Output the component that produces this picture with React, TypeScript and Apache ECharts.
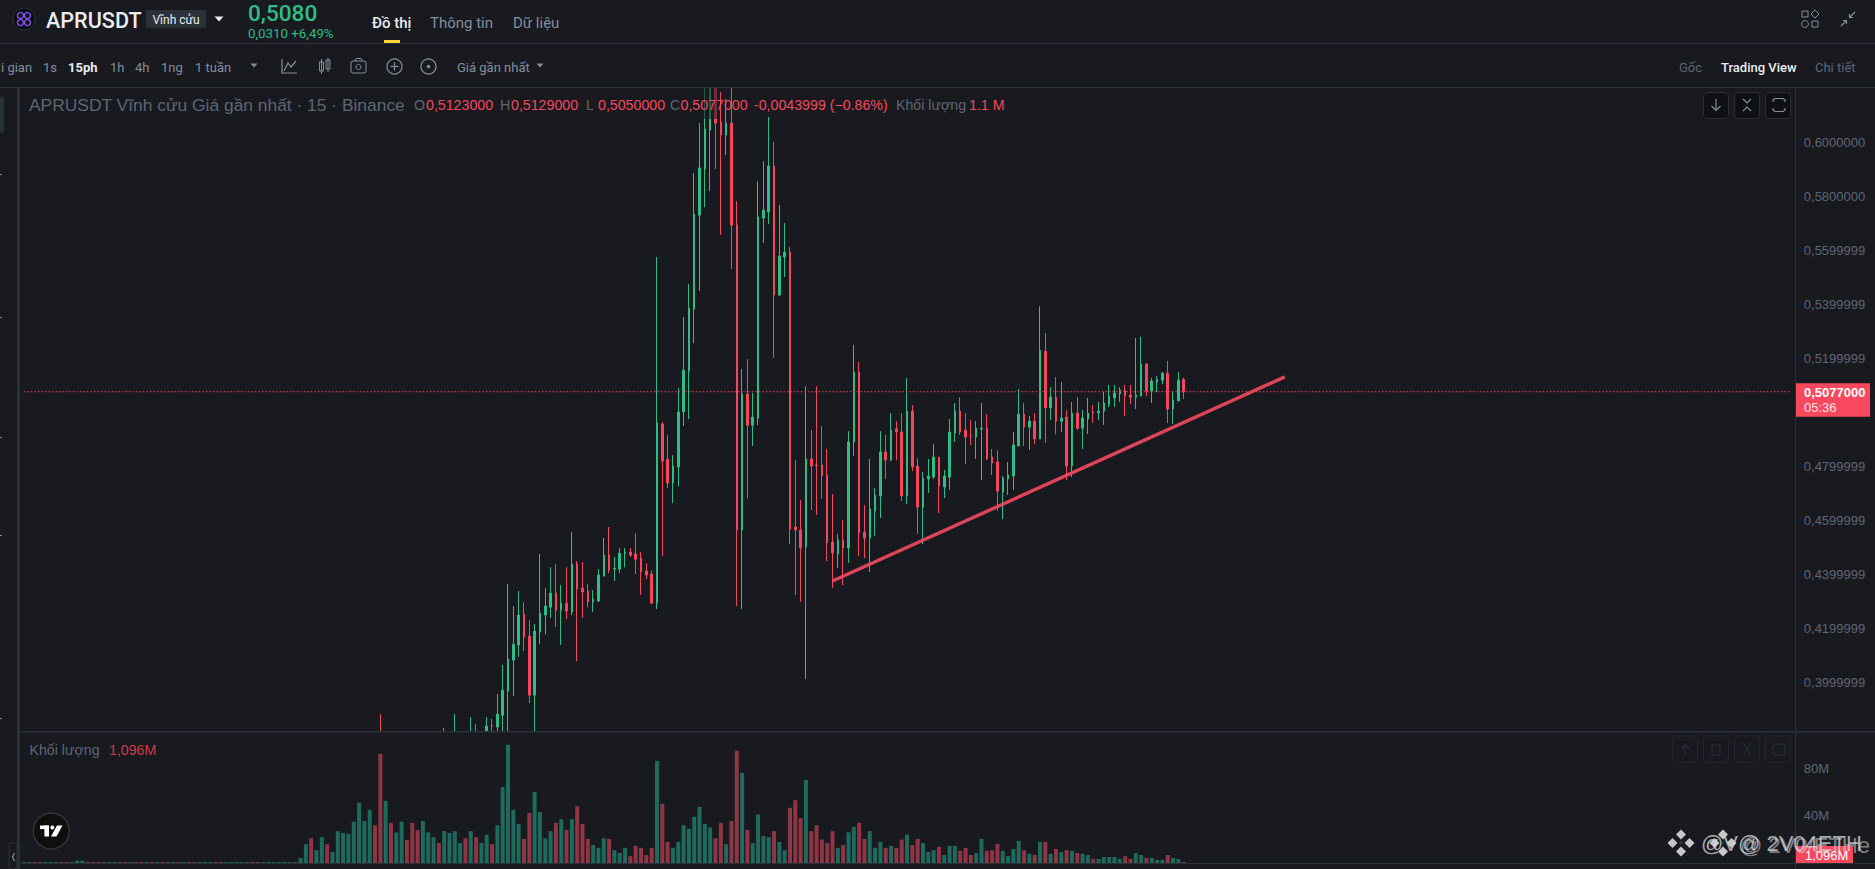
import React, { useEffect, useRef } from "react";
import * as echarts from "echarts";

const UP = "#2EBD85";
const DOWN = "#F6465D";
const VOL_UP = "#1E6A5C";
const VOL_DOWN = "#8E3644";
const BG = "#181A20";
const LINE = "#2B3139";
const MUTED = "#5E6673";
const SOFT = "#848E9C";
const BRIGHT = "#EAECEF";
const UI_FONT = "Roboto, 'Noto Sans', sans-serif";
const CHART_FONT = "'Liberation Sans', Arial, sans-serif";

const CATEGORY_COUNT = 333;
const categories = Array.from({ length: CATEGORY_COUNT }, (_, i) => String(i));

// Off-scale candles whose only visible part is an upper wick: [index, open, high, low, close]
const earlyCandles = [
  [67, 0.3745, 0.3883, 0.371, 0.3715],
  [79, 0.371, 0.3832, 0.369, 0.3745],
  [81, 0.3705, 0.3883, 0.368, 0.3755],
  [84, 0.3715, 0.3872, 0.369, 0.3775],
  [85, 0.3775, 0.3846, 0.37, 0.373],
];

// Candles from index 87 on: [open, high, low, close]
const FIRST_ROW = 87;
const ohlc = [
  [0.3805, 0.3872, 0.378, 0.3839], [0.3842, 0.3865, 0.375, 0.384], [0.3835, 0.3957, 0.378, 0.3883],
  [0.3879, 0.4065, 0.378, 0.3972], [0.3968, 0.4365, 0.375, 0.4087], [0.4083, 0.4283, 0.395, 0.4142],
  [0.4139, 0.4339, 0.4094, 0.425], [0.4253, 0.4298, 0.4116, 0.4168], [0.4172, 0.4231, 0.3924, 0.3953],
  [0.3953, 0.4216, 0.378, 0.419], [0.4187, 0.4476, 0.4142, 0.4257], [0.425, 0.435, 0.4179, 0.4283],
  [0.4279, 0.4427, 0.4239, 0.4331], [0.4331, 0.4439, 0.4205, 0.4268], [0.4268, 0.4361, 0.4139, 0.4294],
  [0.4294, 0.4427, 0.4235, 0.4265], [0.4261, 0.4557, 0.425, 0.4439], [0.4439, 0.445, 0.4079, 0.4346],
  [0.435, 0.4446, 0.4239, 0.4335], [0.4339, 0.4365, 0.4279, 0.4298], [0.4298, 0.4342, 0.4261, 0.4309],
  [0.4302, 0.442, 0.4298, 0.4398], [0.4394, 0.4535, 0.4394, 0.4472], [0.4472, 0.4576, 0.4405, 0.4416],
  [0.442, 0.4465, 0.4376, 0.4424], [0.442, 0.4498, 0.4405, 0.4479], [0.4479, 0.4498, 0.4427, 0.4483],
  [0.4483, 0.4498, 0.4465, 0.4472], [0.4476, 0.4553, 0.4402, 0.4457], [0.4461, 0.4483, 0.4324, 0.4409],
  [0.4413, 0.4442, 0.4383, 0.4398], [0.4402, 0.4416, 0.429, 0.4294], [0.4294, 0.5576, 0.4272, 0.4961],
  [0.4957, 0.4965, 0.4468, 0.482], [0.4827, 0.4916, 0.472, 0.4739], [0.4739, 0.4842, 0.4665, 0.4802],
  [0.4798, 0.509, 0.4727, 0.5002], [0.5002, 0.5354, 0.495, 0.5157], [0.5154, 0.5476, 0.4976, 0.5387],
  [0.5383, 0.5887, 0.5257, 0.5735], [0.5731, 0.6072, 0.545, 0.5906], [0.5902, 0.628, 0.5761, 0.605],
  [0.6046, 0.63, 0.582, 0.6215], [0.6215, 0.63, 0.5902, 0.6072], [0.6076, 0.6187, 0.5657, 0.6028],
  [0.6028, 0.6161, 0.5954, 0.6072], [0.6072, 0.6203, 0.5532, 0.5694], [0.5694, 0.5783, 0.4283, 0.4565],
  [0.4565, 0.5161, 0.4272, 0.5068], [0.5068, 0.5198, 0.4683, 0.4953], [0.4953, 0.5072, 0.4876, 0.4983],
  [0.4979, 0.5857, 0.4953, 0.5724], [0.572, 0.5931, 0.5628, 0.575], [0.5743, 0.6095, 0.5698, 0.5913],
  [0.5913, 0.6002, 0.5202, 0.5435], [0.5435, 0.5769, 0.5432, 0.558], [0.5576, 0.5702, 0.5502, 0.5594],
  [0.5594, 0.5613, 0.4513, 0.4568], [0.4576, 0.4824, 0.4324, 0.4565], [0.4565, 0.4676, 0.4298, 0.4498],
  [0.4502, 0.5098, 0.4013, 0.4828], [0.4828, 0.4935, 0.4639, 0.4802], [0.4805, 0.5098, 0.462, 0.4803],
  [0.4805, 0.495, 0.468, 0.4765], [0.4768, 0.4865, 0.445, 0.4517], [0.452, 0.4698, 0.435, 0.448],
  [0.4476, 0.455, 0.4424, 0.4528], [0.4528, 0.4602, 0.4361, 0.4498], [0.4498, 0.4931, 0.4443, 0.4891],
  [0.4891, 0.525, 0.4839, 0.515], [0.515, 0.5187, 0.4468, 0.4554], [0.4557, 0.4657, 0.4461, 0.4535],
  [0.4535, 0.4828, 0.4409, 0.4643], [0.4635, 0.472, 0.4543, 0.4694], [0.4691, 0.4931, 0.4609, 0.4854],
  [0.4854, 0.4917, 0.4754, 0.4824], [0.4824, 0.4998, 0.482, 0.4935], [0.4939, 0.4968, 0.4824, 0.4928],
  [0.4928, 0.4998, 0.4672, 0.4691], [0.4691, 0.5128, 0.4661, 0.5005], [0.5005, 0.5028, 0.4783, 0.4798],
  [0.4802, 0.4831, 0.455, 0.465], [0.465, 0.478, 0.4513, 0.4757], [0.4754, 0.4828, 0.4702, 0.4765],
  [0.4761, 0.4883, 0.4754, 0.4835], [0.4835, 0.4835, 0.4628, 0.4728], [0.4724, 0.4787, 0.4683, 0.4765],
  [0.4761, 0.4976, 0.4713, 0.4928], [0.4924, 0.5035, 0.4891, 0.5005], [0.5005, 0.5057, 0.4917, 0.4928],
  [0.4935, 0.4998, 0.4809, 0.4909], [0.4913, 0.4972, 0.488, 0.491], [0.4909, 0.4968, 0.4828, 0.4942],
  [0.4939, 0.5035, 0.475, 0.4942], [0.4942, 0.4994, 0.4824, 0.4828], [0.4835, 0.4865, 0.4768, 0.4813],
  [0.4817, 0.4861, 0.4635, 0.4709], [0.4705, 0.4765, 0.4605, 0.4757], [0.4754, 0.4817, 0.4695, 0.4769],
  [0.4765, 0.4928, 0.4713, 0.488], [0.4876, 0.5087, 0.4876, 0.4994], [0.4994, 0.5035, 0.4876, 0.4946],
  [0.4946, 0.4987, 0.4861, 0.4968], [0.4968, 0.4998, 0.4883, 0.4902], [0.4902, 0.5394, 0.4902, 0.5231],
  [0.5227, 0.5294, 0.4887, 0.5017], [0.5017, 0.5094, 0.4972, 0.5057], [0.5057, 0.5131, 0.492, 0.4968],
  [0.4968, 0.5113, 0.4928, 0.498], [0.4983, 0.5009, 0.475, 0.4802], [0.4802, 0.5039, 0.4761, 0.4998],
  [0.4998, 0.5057, 0.4935, 0.4942], [0.4942, 0.5009, 0.4865, 0.498], [0.4976, 0.5054, 0.492, 0.4998],
  [0.5002, 0.5028, 0.4961, 0.4998], [0.4998, 0.5039, 0.4972, 0.5005], [0.5005, 0.5076, 0.4954, 0.5035],
  [0.5031, 0.5102, 0.502, 0.5061], [0.5054, 0.5102, 0.502, 0.5072], [0.5069, 0.5094, 0.5039, 0.5083],
  [0.5083, 0.5102, 0.4987, 0.5061], [0.5065, 0.5102, 0.5031, 0.5057], [0.5057, 0.5276, 0.5013, 0.5065],
  [0.5061, 0.528, 0.5061, 0.518], [0.518, 0.5183, 0.5061, 0.508], [0.508, 0.5128, 0.5035, 0.5117],
  [0.5113, 0.5135, 0.5076, 0.5124], [0.512, 0.515, 0.5105, 0.5146], [0.5146, 0.5191, 0.4961, 0.5013],
  [0.5013, 0.508, 0.4957, 0.5046], [0.5043, 0.515, 0.5043, 0.512], [0.5123, 0.5129, 0.505, 0.5077],
];

// Volume in millions, one per candle slot from index 0
const volumes = [
  1, 1, 1, 1, 1, 1, 1, 1, 1, 1, 2.2, 2.2, 1, 1, 1, 1, 1, 1, 1, 1,
  1, 1, 1, 1, 1, 1, 1, 1, 1, 1, 1, 1, 1, 1, 1, 1, 1, 1, 1, 1,
  1, 1, 1, 1, 1, 1, 1, 1, 1, 1,
  1, 1, 4.5, 16, 21, 11, 22, 16, 9.5, 27,
  25.5, 24.7, 35, 51, 35.6, 45, 32, 92, 52.5, 34,
  26, 35, 19.6, 34, 28, 35.6, 26, 22, 17, 27,
  25.5, 27, 17, 21, 27, 22, 17, 24, 16, 32,
  64, 99.6, 45, 33, 20.5, 42.4, 60, 43, 21, 27,
  34, 37, 28, 37, 48, 33, 20.5, 15.4, 13, 21,
  20.5, 11, 8.7, 13, 6, 14.6, 13, 7, 13, 86,
  50, 18, 13, 18, 32, 29, 39, 47.4, 33, 30,
  21, 34, 16, 35.6, 94.6, 76, 28, 17, 41, 23,
  22, 27, 18, 11, 46.6, 53, 38, 70, 27, 32,
  20, 17, 27, 13, 15.4, 26, 30.6, 34, 20.5, 27,
  13, 18, 13, 14.6, 13, 20, 24, 15.4, 20.5, 17,
  9.5, 11, 13.8, 7, 14.6, 14.6, 10.4, 13, 7, 8.7,
  20.5, 10.4, 11, 16.3, 10.4, 6, 12, 18.8, 11, 8,
  7, 18, 18, 8, 12, 9.5, 11, 10.4, 8.7, 8,
  7, 3.6, 3.6, 5.3, 5.3, 5.3, 3.6, 6, 3.6, 8.7,
  7, 4.5, 4.5, 2.8, 2.8, 7, 4.5, 3.6, 1.1,
];
const volumeSides = (
  "ggrrgggrrg" + "ggrrrrggrr" + "grrgrgrrgr" + "grrgggrrgg" + "gggrrggggg" +
  "ggggrggrgg" + "ggggggrrgr" + "ggrrrgggrg" + "gggrgrggrg" + "ggggrrgggg" +
  "rgrgrrrggg" + "rgggrrrrrg" + "rrgggggggg" + "rrgrrgrggg" + "grggrrrgrr" +
  "rrrgrggrrg" + "ggrgrrgrrg" + "ggrgggrrrg" + "grrrggggrg" + "rgrgrgrgrg" +
  "grgggggrrg" + "grgggrggr"
).split("");

const priceTickValues = [0.6, 0.58, 0.56, 0.54, 0.52, 0.48, 0.46, 0.44, 0.42, 0.4];
const priceTickLabels = [
  "0,6000000", "0,5800000", "0,5599999", "0,5399999", "0,5199999",
  "0,4799999", "0,4599999", "0,4399999", "0,4199999", "0,3999999",
];
const volumeTickValues = [80, 40];
const volumeTickLabels = ["80M", "40M"];

const LAST_PRICE = 0.5077;
const trendLine = [[152, 0.4376], [237, 0.5132]];
const lastPriceLine = [[0, LAST_PRICE], [CATEGORY_COUNT - 1, LAST_PRICE]];

const candleData: any[] = categories.map(() => "-");
earlyCandles.forEach(([i, o, h, l, c]) => { candleData[i] = [o, c, l, h]; });
ohlc.forEach(([o, h, l, c], k) => { candleData[FIRST_ROW + k] = [o, c, l, h]; });

const volumeData = volumes.map((v, i) => ({
  value: v,
  itemStyle: { color: volumeSides[i] === "g" ? VOL_UP : VOL_DOWN },
}));

const text = (x: number, y: number, t: string, fill: string, size: number, extra: any = {}) => ({
  type: "text", x, y, z: extra.z ?? 20, silent: true,
  style: {
    text: t, fill, fontSize: size, fontFamily: extra.family ?? UI_FONT,
    fontWeight: extra.weight ?? "normal", textAlign: extra.align ?? "left", textVerticalAlign: "middle",
    opacity: extra.opacity ?? 1,
  },
});
const rect = (x: number, y: number, w: number, h: number, fill: string, extra: any = {}) => ({
  type: "rect", z: extra.z ?? 15, silent: true,
  shape: { x, y, width: w, height: h, r: extra.r ?? 0 },
  style: { fill, stroke: extra.stroke, lineWidth: extra.lw ?? 1, opacity: extra.opacity ?? 1 },
});
const poly = (points: number[][], stroke: string, lw = 1.2, z = 20) => ({
  type: "polyline", z, silent: true, shape: { points }, style: { stroke, lineWidth: lw, fill: "none" },
});
const tri = (x: number, y: number, w: number, h: number, fill: string) => ({
  type: "polygon", z: 20, silent: true,
  shape: { points: [[x - w / 2, y - h / 2], [x + w / 2, y - h / 2], [x, y + h / 2]] }, style: { fill },
});
const circle = (cx: number, cy: number, r: number, stroke: string | undefined, fill: string, lw = 1.2, z = 20) => ({
  type: "circle", z, silent: true, shape: { cx, cy, r }, style: { stroke, fill, lineWidth: lw },
});

function buildGraphic() {
  const els: any[] = [];
  // Panes that trim the candles to their plot area (the candlestick series is not clipped by its grid)
  els.push(rect(0, 0, 1875, 88, BG, { z: 8 }));
  els.push(rect(20, 732, 1775, 137, BG, { z: 8 }));

  // frame lines
  els.push(rect(0, 43, 1875, 1, LINE));
  els.push(rect(0, 87, 1875, 1, LINE));
  els.push(rect(17, 88, 3, 781, "#2B3139"));
  els.push(rect(1795, 88, 1, 781, LINE));
  els.push(rect(20, 731, 1855, 1.5, LINE));
  els.push(rect(20, 863, 1855, 1, LINE));
  els.push(rect(0, 97, 4, 36, "#2B3139", { r: 2 }));
  [174, 317, 437, 535, 718].forEach((y) => els.push(rect(0, y, 2, 1, SOFT)));
  els.push(rect(9, 843, 8, 26, BG, { stroke: LINE, r: 3 }));
  els.push(poly([[14.5, 853], [12.5, 857], [14.5, 861]], SOFT, 1.2));

  // top bar
  els.push(circle(24, 19, 11, "#2B3139", "#0B0E11", 1));
  [[20.5, 15.5], [27.5, 15.5], [20.5, 22.5], [27.5, 22.5]].forEach(([cx, cy]) =>
    els.push(circle(cx, cy, 3, "#7B4DE0", "none", 1.6)));
  els.push(text(46, 20, "APRUSDT", BRIGHT, 21.6, { weight: 500 }));
  els.push(rect(146, 10, 60, 18, "#2B3139", { r: 2 }));
  els.push(text(176, 19.5, "Vĩnh cửu", BRIGHT, 12, { align: "center" }));
  els.push(tri(219, 19, 9, 5, BRIGHT));
  els.push(text(248, 13, "0,5080", UP, 22.6, { weight: 500 }));
  els.push(text(248, 33.5, "0,0310 +6,49%", UP, 13.3));
  els.push(text(372, 23, "Đồ thị", BRIGHT, 15, { weight: 500 }));
  els.push(text(430, 23, "Thông tin", SOFT, 15));
  els.push(text(513, 23, "Dữ liệu", SOFT, 15));
  els.push(rect(384, 40, 16, 3, "#FCD535"));
  // top right icons
  els.push(rect(1802, 11, 6, 6, "none", { stroke: SOFT, z: 20 }));
  els.push({ type: "polygon", z: 20, silent: true, shape: { points: [[1815, 10], [1819, 14], [1815, 18], [1811, 14]] }, style: { fill: "none", stroke: SOFT, lineWidth: 1 } });
  els.push(circle(1805, 24, 3.4, SOFT, "none", 1));
  els.push(rect(1812, 21, 6, 6, "none", { stroke: SOFT, z: 20 }));
  els.push(poly([[1841, 26], [1846, 21]], SOFT));
  els.push(poly([[1843, 20.5], [1846.5, 20.5], [1846.5, 24]], SOFT));
  els.push(poly([[1855, 12], [1850, 17]], SOFT));
  els.push(poly([[1849.5, 14], [1849.5, 17.5], [1853, 17.5]], SOFT));

  // toolbar
  els.push(text(1, 67, "i gian", SOFT, 13));
  els.push(text(43, 67, "1s", SOFT, 13));
  els.push(text(68, 67, "15ph", BRIGHT, 13, { weight: 700 }));
  els.push(text(110, 67, "1h", SOFT, 13));
  els.push(text(135, 67, "4h", SOFT, 13));
  els.push(text(161, 67, "1ng", SOFT, 13));
  els.push(text(195, 67, "1 tuần", SOFT, 13));
  els.push(tri(254, 65.5, 7, 4, SOFT));
  els.push(poly([[282, 59], [282, 73], [297, 73]], SOFT));
  els.push(poly([[284, 71], [288, 63], [291, 67], [296, 61]], SOFT));
  els.push(rect(319.5, 62, 4, 9, "none", { stroke: SOFT, z: 20 }));
  els.push(rect(326, 60, 4, 9, "none", { stroke: SOFT, z: 20 }));
  els.push(poly([[321.5, 59], [321.5, 74]], SOFT, 1));
  els.push(poly([[328, 58], [328, 72]], SOFT, 1));
  els.push(rect(351, 61, 15, 12, "none", { stroke: SOFT, r: 2, z: 20 }));
  els.push(poly([[355, 61], [356, 58.5], [361, 58.5], [362, 61]], SOFT, 1));
  els.push(circle(358.5, 67, 2.6, SOFT, "none", 1));
  els.push(circle(394.5, 66.5, 7.5, SOFT, "none", 1.2));
  els.push(poly([[394.5, 62.5], [394.5, 70.5]], SOFT));
  els.push(poly([[390.5, 66.5], [398.5, 66.5]], SOFT));
  els.push(circle(428.5, 66.5, 7.5, SOFT, "none", 1.2));
  els.push(circle(428.5, 66.5, 1.8, undefined, SOFT));
  els.push(text(457, 67, "Giá gần nhất", SOFT, 13));
  els.push(tri(540, 65.5, 7, 4, SOFT));
  els.push(text(1679, 67, "Gốc", MUTED, 13));
  els.push(text(1721, 67, "Trading View", BRIGHT, 13, { weight: 500 }));
  els.push(text(1815, 67, "Chi tiết", MUTED, 13));

  // chart legend
  const L = { family: CHART_FONT };
  els.push(rect(704, 88, 16, 31, BG, { opacity: 0.6, z: 18 }));
  els.push(text(29, 105, "APRUSDT Vĩnh cửu Giá gần nhất · 15 · Binance", MUTED, 17.4, L));
  const pairs: [number, string, number, string][] = [
    [414, "O", 426, "0,5123000"], [500, "H", 511, "0,5129000"],
    [586, "L", 598, "0,5050000"], [670, "C", 680.5, "0,5077000"],
  ];
  pairs.forEach(([lx, lt, vx, vt]) => {
    els.push(text(lx, 105, lt, MUTED, 14.2, L));
    els.push(text(vx, 105, vt, DOWN, 14.2, L));
  });
  els.push(text(754, 105, "-0,0043999 (−0.86%)", DOWN, 14.2, L));
  els.push(text(896, 105, "Khối lượng", MUTED, 14.2, L));
  els.push(text(969, 105, "1.1 M", DOWN, 14.2, L));
  els.push(text(29.5, 750, "Khối lượng", MUTED, 14.2, L));
  els.push(text(109, 750, "1,096M", "#C93B4D", 14.2, L));

  // chart buttons
  [1703.5, 1734.5, 1765.5].forEach((x) =>
    els.push(rect(x, 92.5, 25, 26, "#0F1014", { stroke: LINE, r: 4 })));
  els.push(poly([[1716, 99], [1716, 110]], SOFT));
  els.push(poly([[1711.5, 106], [1716, 110.5], [1720.5, 106]], SOFT));
  els.push(poly([[1743, 99], [1747, 103], [1751, 99]], SOFT));
  els.push(poly([[1743, 111], [1747, 107], [1751, 111]], SOFT));
  els.push(poly([[1773, 102], [1773, 100], [1775, 98.5], [1783, 98.5], [1785, 100], [1785, 102]], SOFT));
  els.push(poly([[1773, 108], [1773, 110], [1775, 111.5], [1783, 111.5], [1785, 110], [1785, 108]], SOFT));
  [1672.5, 1703.5, 1734.5, 1765.5].forEach((x) =>
    els.push(rect(x, 736, 25, 26.5, BG, { stroke: "#23262D", r: 4 })));
  els.push(poly([[1685, 745], [1685, 755]], "#2B3139"));
  els.push(poly([[1681, 749], [1685, 745], [1689, 749]], "#2B3139"));
  els.push(rect(1712, 745, 8, 10, "none", { stroke: "#2B3139", z: 20 }));
  els.push(poly([[1743, 743], [1751, 755]], "#2B3139"));
  els.push(poly([[1751, 743], [1743, 755]], "#2B3139"));
  els.push(rect(1773, 744, 12, 11, "none", { stroke: "#2B3139", r: 3, z: 20 }));

  // TradingView badge
  els.push(circle(51.3, 831, 18, "#3A3D45", "#0F0F0F", 1.2));
  els.push(rect(40, 825.5, 9, 3.6, "#FFFFFF", { z: 21 }));
  els.push(rect(44.4, 825.5, 4.6, 11, "#FFFFFF", { z: 21 }));
  els.push(circle(52.3, 827.5, 2, undefined, "#FFFFFF", 1, 21));
  els.push({ type: "polygon", z: 21, silent: true, shape: { points: [[57, 825.5], [62.5, 825.5], [56.5, 836.5], [51, 836.5]] }, style: { fill: "#FFFFFF" } });

  // price tags
  els.push(rect(1796, 383.3, 74, 33.4, "#F8485E"));
  els.push(text(1804, 392, "0,5077000", "#FFFFFF", 13, { family: CHART_FONT, weight: 700, z: 21 }));
  els.push(text(1804, 407, "05:36", "#FFE3E7", 13, { family: CHART_FONT, z: 21 }));
  els.push(rect(1796, 846, 57, 17, "#F8485E"));
  els.push(text(1805, 855, "1,096M", "#FFFFFF", 13, { family: CHART_FONT, z: 21 }));

  // watermark
  const mark = (cx: number, cy: number) => {
    const c = "#D8DADD";
    [[0, -8.5], [-8.5, 0], [8.5, 0], [0, 8.5]].forEach(([dx, dy]) =>
      els.push({ type: "polygon", z: 30, silent: true, style: { fill: c, opacity: 0.9 },
        shape: { points: [[cx + dx, cy + dy - 5], [cx + dx + 5, cy + dy], [cx + dx, cy + dy + 5], [cx + dx - 5, cy + dy]] } }));
    els.push({ type: "polygon", z: 30, silent: true, style: { fill: "#30333A", opacity: 0.9 },
      shape: { points: [[cx, cy - 2.4], [cx + 2.4, cy], [cx, cy + 2.4], [cx - 2.4, cy]] } });
  };
  mark(1681, 843);
  mark(1723, 843);
  els.push(text(1701, 843, "@V@ 2V04ETH", "#D8DADD", 22, { family: CHART_FONT, z: 30, opacity: 0.75 }));
  els.push(text(1740, 845, "@ 2V0/ETHe", "#D8DADD", 22, { family: CHART_FONT, z: 30, opacity: 0.55 }));
  return els;
}

export default function App() {
  const ref = useRef<HTMLDivElement>(null);
  useEffect(() => {
    document.body.style.margin = "0";
    document.body.style.background = BG;
    const chart = echarts.init(ref.current!, undefined, { renderer: "svg" });
    const left = 21.24;
    const width = 5.32 * CATEGORY_COUNT;
    chart.setOption({
      animation: false,
      backgroundColor: BG,
      textStyle: { fontFamily: CHART_FONT },
      graphic: { elements: buildGraphic() },
      grid: [
        { left, width, top: 88, height: 643, outerBoundsMode: "none" },
        { left, width, top: 735, height: 128.3, outerBoundsMode: "none" },
      ],
      xAxis: [
        { type: "category", gridIndex: 0, data: categories, show: false, boundaryGap: true },
        { type: "category", gridIndex: 1, data: categories, show: false, boundaryGap: true },
      ],
      yAxis: [
        {
          type: "value", gridIndex: 0, position: "right", min: 0.38204, max: 0.6202,
          splitLine: { show: false }, axisLine: { show: false }, axisTick: { show: false },
          axisLabel: {
            customValues: priceTickValues, margin: 11, color: MUTED, fontSize: 13, fontFamily: CHART_FONT,
            formatter: (v: number) => priceTickLabels[priceTickValues.findIndex((t) => Math.abs(t - v) < 1e-6)] ?? "",
          },
        },
        {
          type: "value", gridIndex: 1, position: "right", min: 0, max: 107.8,
          splitLine: { show: false }, axisLine: { show: false }, axisTick: { show: false },
          axisLabel: {
            customValues: volumeTickValues, margin: 11, color: MUTED, fontSize: 13, fontFamily: CHART_FONT,
            formatter: (v: number) => volumeTickLabels[volumeTickValues.indexOf(v)] ?? "",
          },
        },
      ],
      series: [
        {
          type: "candlestick", xAxisIndex: 0, yAxisIndex: 0, data: candleData, barWidth: 2, z: 2,
          itemStyle: { color: UP, color0: DOWN, borderColor: UP, borderColor0: DOWN, borderWidth: 1 },
        },
        {
          type: "line", xAxisIndex: 0, yAxisIndex: 0, data: lastPriceLine, symbol: "none", z: 3, silent: true,
          lineStyle: { color: DOWN, width: 1, type: [1.5, 2] },
        },
        {
          type: "line", xAxisIndex: 0, yAxisIndex: 0, data: trendLine, symbol: "none", z: 5, silent: true,
          lineStyle: { color: "#F0495F", width: 3.4, opacity: 0.92 },
        },
        { type: "bar", xAxisIndex: 1, yAxisIndex: 1, data: volumeData, barWidth: 4, z: 9 },
      ],
    });
    return () => chart.dispose();
  }, []);
  return <div ref={ref} style={{ position: "absolute", left: 0, top: 0, width: 1875, height: 869 }} />;
}
